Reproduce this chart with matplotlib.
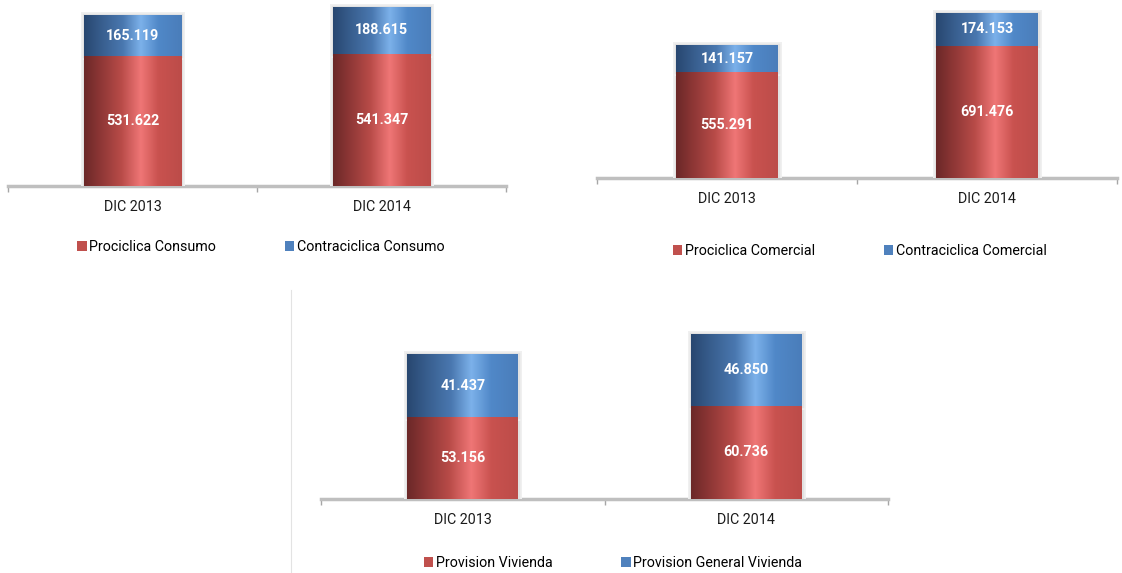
import matplotlib
matplotlib.use("Agg")
import matplotlib.pyplot as plt
import numpy as np
from matplotlib.colors import LinearSegmentedColormap
from matplotlib.lines import Line2D
from matplotlib.patches import Patch
import matplotlib.patheffects as pe

plt.rcParams['font.family'] = ['Roboto', 'DejaVu Sans']

cats = ['DIC 2013', 'DIC 2014']

consumo_pro = [531.622, 541.347]
consumo_contra = [165.119, 188.615]
comercial_pro = [555.291, 691.476]
comercial_contra = [141.157, 174.153]
vivienda_prov = [53.156, 60.736]
vivienda_gen = [41.437, 46.850]

red = '#c0504d'
blue = '#4f81bd'
red_cm = LinearSegmentedColormap.from_list('r', [
    (0.0, '#6b2828'), (0.15, '#8a3534'), (0.38, '#b84b48'),
    (0.58, '#ef7676'), (0.76, '#c9524f'), (1.0, '#bc4c49')])
blue_cm = LinearSegmentedColormap.from_list('b', [
    (0.0, '#284770'), (0.18, '#385e8e'), (0.40, '#4a78b0'),
    (0.58, '#7cb1ea'), (0.76, '#5088c8'), (1.0, '#4a7dba')])

W, H = 1122, 573
fig = plt.figure(figsize=(W / 100, H / 100), dpi=100)

FS = 10.3


def gradient_fill(ax, patches, cmap):
    grad = np.linspace(0, 1, 256).reshape(1, -1)
    for p in patches:
        x0, y0 = p.get_x(), p.get_y()
        x1, y1 = x0 + p.get_width(), y0 + p.get_height()
        im = ax.imshow(grad, cmap=cmap, extent=(x0, x1, y0, y1),
                       aspect='auto', zorder=4, interpolation='bilinear')
        im.set_clip_path(p)


def panel(left, right, top, base, ytop, bottom_vals, top_vals, names, leg_xy):
    ax = fig.add_axes([left / W, (H - base) / H, (right - left) / W, (base - top) / H])
    x = np.arange(len(cats))
    glow = [pe.withStroke(linewidth=5, foreground='#f0f0f0'),
            pe.withStroke(linewidth=2.5, foreground='#e2e2e2')]
    b1 = ax.bar(x, bottom_vals, 0.39, color=red, zorder=3, path_effects=glow)
    b2 = ax.bar(x, top_vals, 0.39, bottom=bottom_vals, color=blue, zorder=3,
                path_effects=glow)
    gradient_fill(ax, b1, red_cm)
    gradient_fill(ax, b2, blue_cm)
    for i in range(len(cats)):
        ax.text(x[i], bottom_vals[i] / 2, f'{bottom_vals[i]:.3f}', ha='center',
                va='center', color='white', fontsize=FS, fontweight='bold', zorder=6)
        ax.text(x[i], bottom_vals[i] + top_vals[i] / 2, f'{top_vals[i]:.3f}',
                ha='center', va='center', color='white', fontsize=FS,
                fontweight='bold', zorder=6)
    ax.set_xlim(-0.5, 1.5)
    ax.set_ylim(0, ytop)
    for s in ['top', 'right', 'left']:
        ax.spines[s].set_visible(False)
    ax.spines['bottom'].set_color('#bfbfbf')
    ax.spines['bottom'].set_linewidth(2.5)
    ax.set_yticks([])
    ax.set_xticks(x)
    ax.set_xticklabels(cats, fontsize=FS, color='#1a1a1a')
    ax.tick_params(axis='x', which='major', length=0, pad=10)
    ax.set_xticks([-0.5, 0.5, 1.5], minor=True)
    ax.tick_params(axis='x', which='minor', length=4, width=1, color='#a6a6a6',
                   direction='out')
    ax.patch.set_alpha(0)
    handles = [Patch(facecolor=red, label=names[0]),
               Patch(facecolor=blue, label=names[1])]
    fig.legend(handles=handles, loc='center', ncol=2, frameon=False,
               fontsize=FS, bbox_to_anchor=(leg_xy[0] / W, 1 - leg_xy[1] / H),
               handlelength=0.65, handleheight=0.65, handletextpad=0.2,
               columnspacing=4.8)
    return ax


panel(8, 506, 0, 186, 760, consumo_pro, consumo_contra,
      ['Prociclica Consumo', 'Contraciclica Consumo'], (261, 247))
panel(597, 1117, 0, 178, 933, comercial_pro, comercial_contra,
      ['Prociclica Comercial', 'Contraciclica Comercial'], (860, 251))
panel(321, 888, 290, 499, 136.2, vivienda_prov, vivienda_gen,
      ['Provision Vivienda', 'Provision General Vivienda'], (613, 563))

fig.add_artist(Line2D([291 / W, 291 / W], [0, 1 - 290 / H], color='#e3e3e3',
                      linewidth=0.8))

fig.savefig('out.png', dpi=100)
